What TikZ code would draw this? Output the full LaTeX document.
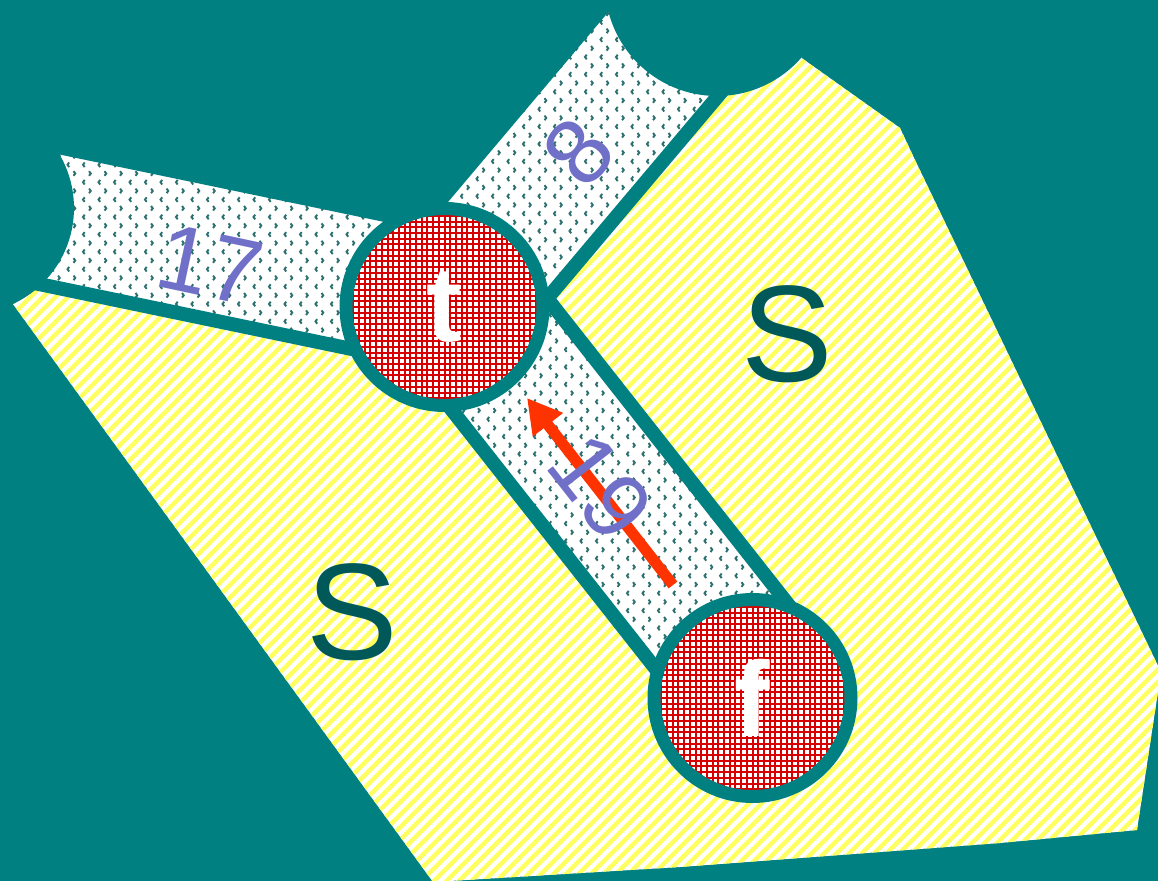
\documentclass[tikz,border=0pt]{standalone}
\usepackage{fontspec}
\setmainfont{Liberation Sans}
\usetikzlibrary{calc,arrows.meta}
\definecolor{bgteal}{RGB}{0,128,128}
\definecolor{sdark}{RGB}{0,88,88}
\definecolor{numblue}{RGB}{112,112,200}
\definecolor{ystripe}{RGB}{255,255,95}
\definecolor{gridred}{RGB}{215,0,0}
\definecolor{chevc}{RGB}{45,112,112}
\definecolor{arrowred}{RGB}{255,51,0}
\pgfdeclarelayer{bglayer}
\pgfdeclarelayer{striplayer}
\pgfsetlayers{bglayer,striplayer,main}
\tikzset{
  sborder/.style={draw=bgteal, line width=10.5pt},
  chevmark/.style={draw=chevc, line width=1.45pt},
  vnode/.style={circle, draw=bgteal, line width=9.75pt, minimum size=147.75pt, inner sep=0pt,
    fill=white, text=white, font=\fontsize{80}{96}\selectfont\bfseries,
    path picture={
      \foreach \k in {-18,...,18} {
        \draw[gridred, line width=1.5pt] ([xshift=\k*4.275pt, yshift=-80pt]path picture bounding box.center) -- ++(0pt,160pt);
        \draw[gridred, line width=1.5pt] ([yshift=\k*4.275pt, xshift=-80pt]path picture bounding box.center) -- ++(160pt,0pt);
      }}},
  hiddennode/.style={circle, fill=bgteal, inner sep=0pt},
  numlabel/.style={text=numblue, font=\fontsize{70}{84}\selectfont},
  slabel/.style={text=sdark, font=\fontsize{103}{120}\selectfont},
  flowarrow/.style={draw=arrowred, line width=8.25pt, -{Triangle[length=25.5pt,width=27pt]}},
}
% field of small chevron marks over a box (picture pixels)
\newcommand{\chevfield}[4]{%
  \pgfmathtruncatemacro\nrows{(#4-#3)/8.7}%
  \pgfmathtruncatemacro\ncols{(#2-#1)/15.5}%
  \foreach \r in {0,...,\nrows} {%
    \pgfmathsetmacro\yy{#3+\r*8.7}%
    \pgfmathsetmacro\xoff{#1+mod(\r,2)*7.75}%
    \pgfmathsetmacro\sg{1-2*mod(\r,2)}%
    \draw[chevmark] \foreach \c in {0,...,\ncols} { ({\xoff+\c*15.5},\yy) ++({\sg*1.7},-2.3) -- ++({-\sg*1.7},2.3) -- ++({\sg*1.7},2.3) };
  }}
% strip between two nodes: #1,#2 nodes, #3 half width (ccw side), #4 half width (cw side), #5-#8 box for the marks
\newcommand{\stripfillpath}[8]{%
  \begin{scope}
    \clip ($(#1)!#3!90:(#2)$) -- ($(#2)!#3!-90:(#1)$) -- ($(#2)!#4!90:(#1)$) -- ($(#1)!#4!-90:(#2)$) -- cycle;
    \fill[white] (#5,#7) rectangle (#6,#8);
    \chevfield{#5}{#6}{#7}{#8}
  \end{scope}}
\newcommand{\stripborderpath}[4]{%
  \draw[sborder] ($(#1)!#3!90:(#2)$) -- ($(#2)!#3!-90:(#1)$);
  \draw[sborder] ($(#1)!#4!-90:(#2)$) -- ($(#2)!#4!90:(#1)$);}
\begin{document}
\begin{tikzpicture}[x=0.75pt,y=-0.75pt]
\useasboundingbox (0,0) rectangle (1158,881);
\clip (0,0) rectangle (1158,881);
% end nodes outside the frame
\node[hiddennode, minimum size=159pt] (L) at (-32,208) {};
\node[hiddennode, minimum size=168pt] (U) at (717,-16) {};
% main nodes
\node[vnode] (t) at (444.5,307) {t};
\node[vnode] (f) at (752.5,698) {f};
\begin{pgfonlayer}{bglayer}
  \fill[bgteal] (0,0) rectangle (1158,881);
  \begin{scope}
    \clip (-6,278) -- (t.center) -- (U.center) -- (803,59) -- (900,128) -- (915,160)
       -- (1161,672) -- (1137,830) -- (1000,843) -- (680,867) -- (433,882) -- cycle;
    \fill[white] (-10,-20) rectangle (1170,890);
    \foreach \k in {-2,...,167} \draw[ystripe, line width=3.3pt] ({-900+\k*12.5},890) -- ++(920,-920);
  \end{scope}
\end{pgfonlayer}
\begin{pgfonlayer}{striplayer}
  \stripfillpath{t.center}{L.center}{45pt}{58.5pt}{-10}{455}{130}{380}
  \stripfillpath{t.center}{U.center}{54pt}{54.75pt}{430}{790}{-30}{330}
  \stripfillpath{t.center}{f.center}{64.5pt}{43.5pt}{410}{830}{280}{730}
  \stripborderpath{t.center}{L.center}{45pt}{58.5pt}
  \stripborderpath{t.center}{U.center}{54pt}{54.75pt}
  \stripborderpath{t.center}{f.center}{64.5pt}{43.5pt}
\end{pgfonlayer}
% flow arrow
\coordinate (atail) at (673,585);
\coordinate (ahead) at (527,398);
\draw[flowarrow] (atail) -- (ahead);
% labels
\node[numlabel, rotate=-12] (n17) at (210,265) {17};
\node[numlabel, rotate=50] (n8) at (579,152) {8};
\node[numlabel, rotate=-52] (n19) at (601,487) {19};
\node[slabel] (s1) at (787,334) {S};
\node[slabel] (s2) at (352,612) {S};
\end{tikzpicture}
\end{document}
